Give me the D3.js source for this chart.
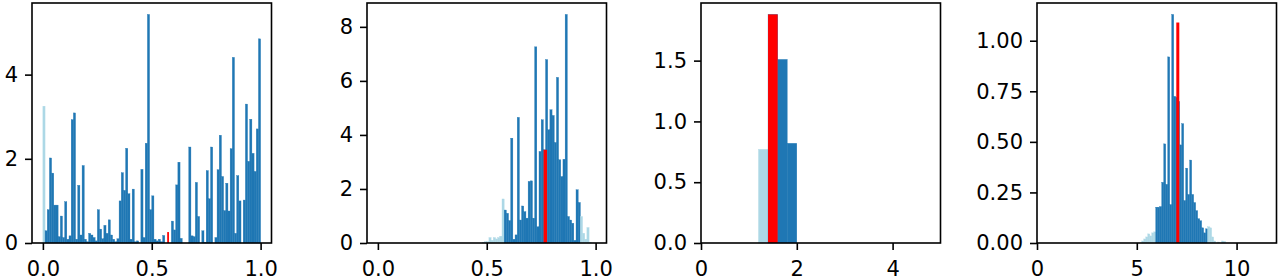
<html>
<head>
  <title>histograms</title>
  <script src="https://d3js.org/d3.v7.min.js"></script>
  <style>
    body { margin: 0; background: #fff; }
    text { font-family: "DejaVu Sans", sans-serif; }
  </style>
</head>
<body>
<script>

// panel 1: 100 bins of 0.01 from 0.0
var p1Start = 0.0, p1Bin = 0.01;
var p1Heights = [3.25, 0.29, 0.79, 2.02, 1.66, 0.9, 0.9, 0.15, 0.64, 0.13,
                 0.98, 0.09, 0.17, 2.93, 3.09, 0.09, 1.37, 0.19, 1.84, 0.09,
                 0.03, 0.23, 0.19, 0.13, 0.05, 0.79, 0.33, 0.1, 0.42, 0.23,
                 0.55, 0.19, 0.09, 0.03, 0.1, 1.0, 1.67, 1.25, 2.25, 1.17,
                 0.09, 1.28, 0.03, 0.05, 0.0, 1.75, 0.13, 2.37, 5.43, 0.79,
                 1.12, 0.09, 0.05, 0.09, 0.03, 0.18, 0.0, 0.0, 0.0, 0.52,
                 0.31, 1.38, 1.92, 0.11, 0.0, 0.0, 0.0, 2.28, 0.17, 0.15,
                 1.44, 0.63, 0.0, 0.29, 0.02, 1.72, 1.05, 2.28, 0.0, 0.13,
                 1.74, 2.56, 1.58, 0.77, 1.42, 0.76, 2.24, 4.41, 0.23, 1.6,
                 1.0, 0.0, 1.02, 3.3, 1.94, 2.94, 2.13, 1.7, 2.71, 4.85];
var p1Core = [1, 99];          // bins drawn in dark blue, the rest light blue
var p1Red = [0.571, 0.579, 0.26];
var p1XDomain = [-0.05, 1.05];
var p1XTicks = [0.0, 0.5, 1.0];
var p1YTicks = [0, 2, 4];

// panel 2
var p2Start = 0.48, p2Bin = 0.01;
var p2Heights = [0.03, 0.05, 0.05, 0.2, 0.1, 0.2, 0.15, 0.2, 0.25, 1.63,
                 1.22, 1.1, 0.83, 3.88, 0.14, 0.3, 4.65, 0.85, 1.37, 1.16,
                 0.92, 2.28, 2.3, 0.92, 7.26, 0.6, 3.39, 4.56, 3.45, 6.79,
                 4.19, 4.93, 4.72, 3.72, 6.13, 3.08, 2.46, 3.1, 8.46, 0.98,
                 0.85, 0.73, 0.1, 1.97, 1.5, 0.98, 0.36, 0.14, 0.57, 0.03];
var p2Core = [10, 44];
var p2Red = [0.761, 0.777, 3.45];
var p2XDomain = [-0.05, 1.05];
var p2XTicks = [0.0, 0.5, 1.0];
var p2YTicks = [0, 2, 4, 6, 8];

// panel 3
var p3Start = 1.2, p3Bin = 0.2;
var p3Heights = [0.77, 1.88, 1.51, 0.82];
var p3Core = [1, 3];
var p3Red = [1.4, 1.6, 1.88];
var p3XDomain = [0, 5];
var p3XTicks = [0, 2, 4];
var p3YTicks = [0.0, 0.5, 1.0, 1.5];

// panel 4
var p4Start = 5.25, p4Bin = 0.1;
var p4Heights = [0.01, 0.02, 0.03, 0.045, 0.035, 0.05, 0.055,
                 0.177, 0.177, 0.18, 0.3, 0.49, 0.29, 0.92, 0.19, 1.13, 0.725,
                 0.72, 0.7, 0.485, 0.59, 0.21, 0.37, 0.24, 0.41, 0.24, 0.2,
                 0.16, 0.12, 0.11, 0.075, 0.05, 0.07,
                 0.08, 0.075, 0.03, 0.01, 0.0, 0.005, 0.0, 0.01, 0.008];
var p4Core = [7, 32];
var p4Red = [6.98, 7.13, 1.09];
var p4XDomain = [0, 12];
var p4XTicks = [0, 5, 10];
var p4YTicks = [0.0, 0.25, 0.5, 0.75, 1.0];

var panels = [
  {start: p1Start, bin: p1Bin, h: p1Heights, core: p1Core, red: p1Red, xd: p1XDomain, xt: p1XTicks, yt: p1YTicks, xf: '.1f', yf: 'd', left: 32},
  {start: p2Start, bin: p2Bin, h: p2Heights, core: p2Core, red: p2Red, xd: p2XDomain, xt: p2XTicks, yt: p2YTicks, xf: '.1f', yf: 'd', left: 367},
  {start: p3Start, bin: p3Bin, h: p3Heights, core: p3Core, red: p3Red, xd: p3XDomain, xt: p3XTicks, yt: p3YTicks, xf: 'd', yf: '.1f', left: 701},
  {start: p4Start, bin: p4Bin, h: p4Heights, core: p4Core, red: p4Red, xd: p4XDomain, xt: p4XTicks, yt: p4YTicks, xf: 'd', yf: '.2f', left: 1037}
];

var width = 1280, height = 280;
var plotTop = 3, plotBottom = 243, panelW = 239.5;

var svg = d3.select('body').append('svg')
            .attr('width', width)
            .attr('height', height);

panels.forEach(function(p) {
  var g = svg.append('g').attr('transform', 'translate(' + p.left + ',0)');

  var x = d3.scaleLinear().domain(p.xd).range([0, panelW]);
  var ymax = d3.max(p.h.concat([p.red[2]])) * 1.05;
  var y = d3.scaleLinear().domain([0, ymax]).range([plotBottom, plotTop]);

  var bins = p.h.map(function(v, i) {
    return {x0: p.start + i * p.bin, x1: p.start + (i + 1) * p.bin, v: v,
            core: i >= p.core[0] && i <= p.core[1]};
  });

  g.selectAll('rect.bar')
   .data(bins.filter(d => d.v > 0))
   .enter()
   .append('rect')
   .attr('class', 'bar')
   .attr('x', d => x(d.x0))
   .attr('width', d => x(d.x1) - x(d.x0))
   .attr('y', d => y(d.v))
   .attr('height', d => y(0) - y(d.v))
   .attr('fill', d => d.core ? '#1f77b4' : 'lightblue')
   .attr('stroke', d => d.core ? '#1f77b4' : 'lightblue')
   .attr('stroke-width', 0.35);

  g.append('rect')
   .attr('x', x(p.red[0]))
   .attr('width', x(p.red[1]) - x(p.red[0]))
   .attr('y', y(p.red[2]))
   .attr('height', y(0) - y(p.red[2]))
   .attr('fill', 'red');

  // frame
  g.append('rect')
   .attr('x', 0).attr('y', plotTop)
   .attr('width', panelW).attr('height', plotBottom - plotTop)
   .attr('fill', 'none')
   .attr('stroke', 'black')
   .attr('stroke-width', 1.6);

  var xAxis = d3.axisBottom(x).tickValues(p.xt).tickFormat(d3.format(p.xf))
                .tickSize(7).tickPadding(11);
  var yAxis = d3.axisLeft(y).tickValues(p.yt).tickFormat(d3.format(p.yf))
                .tickSize(7).tickPadding(7);

  var gx = g.append('g').attr('transform', 'translate(0,' + plotBottom + ')').call(xAxis);
  var gy = g.append('g').call(yAxis);

  [gx, gy].forEach(function(a) {
    a.select('.domain').remove();
    a.selectAll('line').attr('stroke', 'black').attr('stroke-width', 1.6);
    a.selectAll('text').attr('fill', 'black')
     .style('font-family', '"DejaVu Sans", sans-serif')
     .style('font-size', '21px');
  });
});

</script>
</body>
</html>
